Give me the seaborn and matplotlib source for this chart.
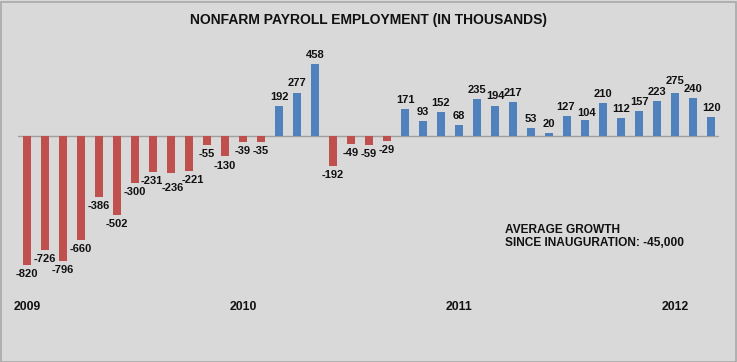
import matplotlib
matplotlib.use("Agg")
import matplotlib.pyplot as plt
from matplotlib.patches import Rectangle
import seaborn as sns
import pandas as pd
import numpy as np

months = list(range(39))
values = [-820, -726, -796, -660, -386, -502, -300, -231, -236, -221, -55, -130,
          -39, -35, 192, 277, 458, -192, -49, -59, -29, 171, 93, 152,
          68, 235, 194, 217, 53, 20, 127, 104, 210, 112, 157, 223,
          275, 240, 120]
year_labels = ["2009", "2010", "2011", "2012"]
year_index = [0, 12, 24, 36]
title = "NONFARM PAYROLL EMPLOYMENT (IN THOUSANDS)"
note = "AVERAGE GROWTH\nSINCE INAUGURATION: -45,000"

sns.set_theme(style="white")
plt.rcParams["font.family"] = ["Liberation Sans", "DejaVu Sans"]

df = pd.DataFrame({"month": months, "value": values})
df["sign"] = np.where(df["value"] < 0, "neg", "pos")

bg = "#d9d9d9"
fig = plt.figure(figsize=(7.37, 3.62), dpi=100, facecolor=bg)
ax = fig.add_axes([0, 0, 1, 1])
ax.set_facecolor(bg)

sns.barplot(data=df, x="month", y="value", hue="sign",
            palette={"neg": "#c0504d", "pos": "#4f81bd"},
            dodge=False, width=0.45, legend=False, ax=ax, linewidth=0,
            saturation=1)

ax.set_xlim(-1.5, 39.44)
ax.set_ylim(-1439, 866)
ax.plot([-0.5, 38.4], [0, 0], color="#a0a0a0", lw=1, zorder=0.5)
for s in ax.spines.values():
    s.set_visible(False)
ax.set_xticks([])
ax.set_yticks([])
ax.set_xlabel("")
ax.set_ylabel("")

# small label nudges (points) to avoid collisions, as in the reference
nudge = {7: (-1, 0), 8: (1, -4), 9: (3, 0), 30: (-1, 0), 31: (1, -2), 36: (0, 2)}
for i, v in zip(months, values):
    dx, dy = nudge.get(i, (0, 0))
    if v >= 0:
        ax.annotate(str(v), (i, v), xytext=(dx, 3 + dy), textcoords="offset points",
                    ha="center", va="bottom", fontsize=8, fontweight="bold",
                    color="#111111")
    else:
        ax.annotate(str(v), (i, v), xytext=(dx, -3 + dy), textcoords="offset points",
                    ha="center", va="top", fontsize=8, fontweight="bold",
                    color="#111111")

for lab, idx in zip(year_labels, year_index):
    ax.text(idx, -1089, lab, ha="center", va="center", fontsize=8.8,
            fontweight="bold", color="#111111")

fig.text(0.5, 1 - 20 / 362, title, ha="center", va="center", fontsize=10,
         fontweight="bold", color="#111111")
fig.text(505 / 737, 1 - 224 / 362, note, ha="left", va="top", fontsize=8.6,
         fontweight="bold", color="#111111", linespacing=1.1)

fig.patches.append(Rectangle((0.5 / 737, 0.5 / 362), 1 - 2 / 737, 1 - 2 / 362,
                             transform=fig.transFigure, fill=False,
                             edgecolor="#a8a8a8", lw=1.2, zorder=10))

fig.savefig("out.png", dpi=100, facecolor=bg)
